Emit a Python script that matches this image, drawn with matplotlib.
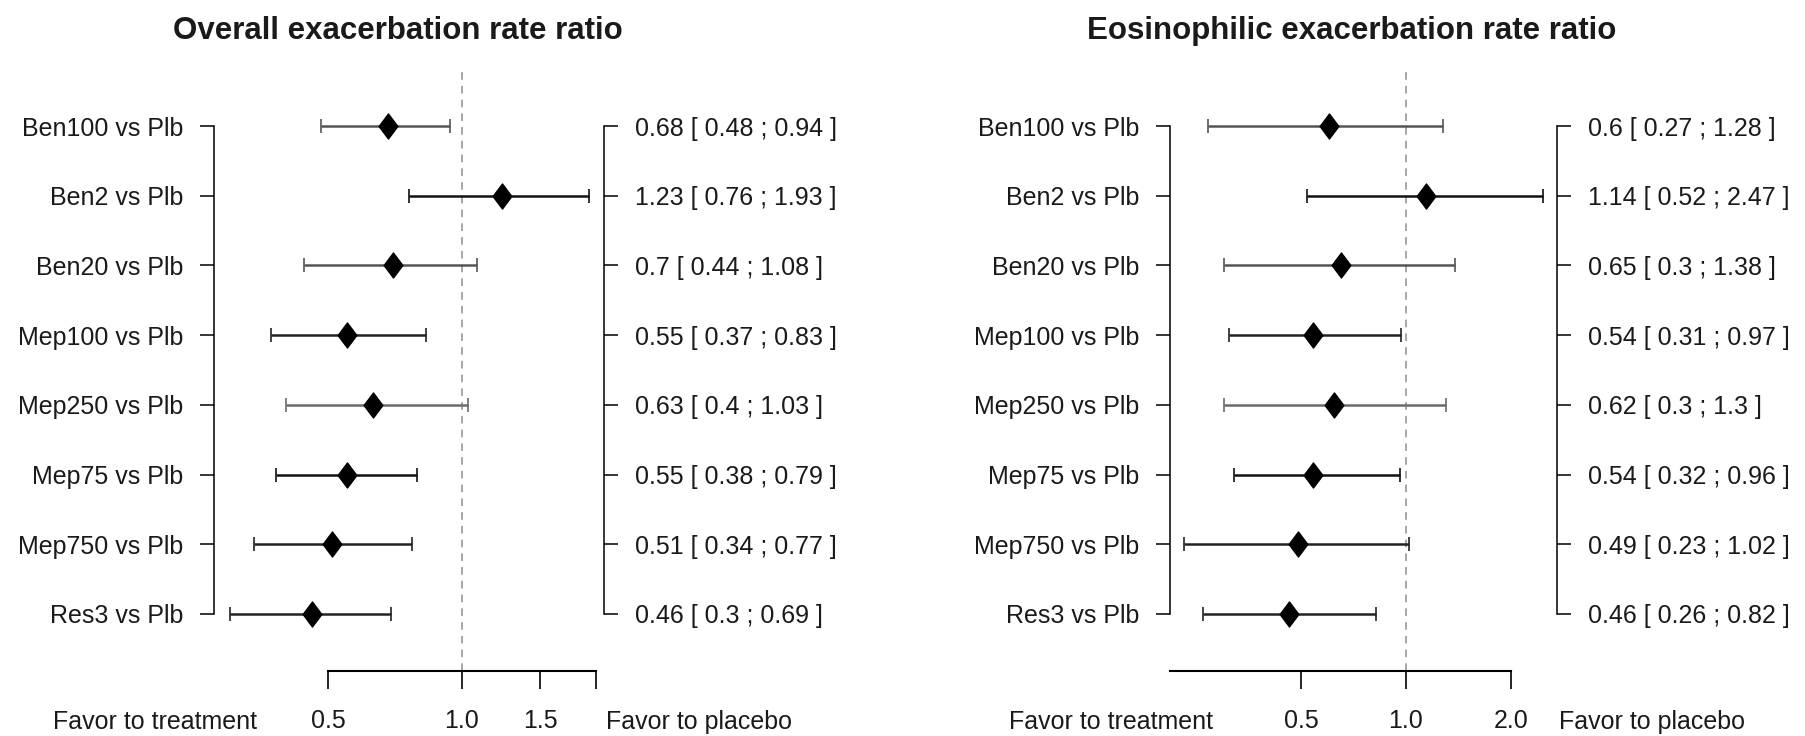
import numpy as np
import matplotlib
matplotlib.use("Agg")
import matplotlib.pyplot as plt
from matplotlib.path import Path

plt.rcParams['font.family'] = ['Liberation Sans', 'DejaVu Sans']

comparisons = ["Ben100 vs Plb", "Ben2 vs Plb", "Ben20 vs Plb", "Mep100 vs Plb",
               "Mep250 vs Plb", "Mep75 vs Plb", "Mep750 vs Plb", "Res3 vs Plb"]

# overall exacerbation rate ratio
overall_rr = [0.68, 1.23, 0.7, 0.55, 0.63, 0.55, 0.51, 0.46]
overall_lo = [0.48, 0.76, 0.44, 0.37, 0.4, 0.38, 0.34, 0.3]
overall_hi = [0.94, 1.93, 1.08, 0.83, 1.03, 0.79, 0.77, 0.69]

# eosinophilic exacerbation rate ratio
eos_rr = [0.6, 1.14, 0.65, 0.54, 0.62, 0.54, 0.49, 0.46]
eos_lo = [0.27, 0.52, 0.3, 0.31, 0.3, 0.32, 0.23, 0.26]
eos_hi = [1.28, 2.47, 1.38, 0.97, 1.3, 0.96, 1.02, 0.82]

overall_ticks = [0.5, 1.0, 1.5, 2.0]
overall_ticklabels = ["0.5", "1.0", "1.5", ""]
eos_ticks = [0.5, 1.0, 2.0]
eos_ticklabels = ["0.5", "1.0", "2.0"]

W, H = 1805, 736
fig = plt.figure(figsize=(W / 100, H / 100), dpi=100)

# tall diamond for the point estimates
diamond = Path([(0, 1), (0.75, 0), (0, -1), (-0.75, 0), (0, 1)],
               [Path.MOVETO, Path.LINETO, Path.LINETO, Path.LINETO, Path.CLOSEPOLY])

ci_colors = ['#555555', '#111111', '#555555', '#222222',
             '#6a6a6a', '#111111', '#222222', '#222222']
TXT = '#1a1a1a'
FS = 18
YLIM = (7.819, -0.8465)


def px_axes(x0, x1, y0, y1):
    return fig.add_axes([x0 / W, 1 - y1 / H, (x1 - x0) / W, (y1 - y0) / H])


def draw_panel(ax, est, lo, hi, xlim, axis_start, ticks, ticklabels):
    rows = np.arange(len(comparisons))
    ax.set_xscale('log')
    ax.set_xlim(xlim)
    ax.set_ylim(YLIM)

    ax.axvline(1.0, color='#8f8f8f', lw=1.1, dashes=(5, 4), zorder=0)

    for i in rows:
        ax.errorbar(est[i], i, xerr=[[est[i] - lo[i]], [hi[i] - est[i]]],
                    fmt='none', ecolor=ci_colors[i], elinewidth=1.8,
                    capsize=5, capthick=1.2, clip_on=False)
    ax.plot(est, rows, ls='none', marker=diamond, ms=18, color='black',
            clip_on=False, zorder=3)

    for s in ['top', 'right']:
        ax.spines[s].set_visible(False)
    ax.spines['left'].set_bounds(0, 7)
    ax.spines['left'].set_linewidth(1.1)
    ax.spines['bottom'].set_bounds(axis_start, 2.0)
    ax.spines['bottom'].set_linewidth(1.5)

    ax.set_xticks(ticks, ticklabels)
    ax.minorticks_off()
    ax.tick_params(axis='x', length=13, width=1.2, pad=14, labelsize=FS,
                   labelcolor=TXT)
    ax.set_yticks(rows, comparisons)
    ax.tick_params(axis='y', length=10, width=1.1, pad=12, labelsize=FS,
                   labelcolor=TXT)

    # estimates with their intervals on the right-hand bracket
    tw = ax.twinx()
    tw.set_ylim(YLIM)
    for s in ['top', 'left', 'bottom']:
        tw.spines[s].set_visible(False)
    tw.spines['right'].set_bounds(0, 7)
    tw.spines['right'].set_linewidth(1.1)
    tw.set_yticks(rows, [f"{e} [ {l} ; {h} ]" for e, l, h in zip(est, lo, hi)])
    tw.tick_params(axis='y', length=10, width=1.1, pad=12, labelsize=FS,
                   labelcolor=TXT)

    ax.text(0.11, -0.084, "Favor to treatment", transform=ax.transAxes,
            ha='right', va='center', fontsize=FS, color=TXT)
    ax.text(1.005, -0.084, "Favor to placebo", transform=ax.transAxes,
            ha='left', va='center', fontsize=FS, color=TXT)


ax1 = px_axes(214, 604, 67, 671)
draw_panel(ax1, overall_rr, overall_lo, overall_hi,
           (np.exp((214 - 462) / 192.6), np.exp((604 - 462) / 192.6)),
           0.5, overall_ticks, overall_ticklabels)

ax2 = px_axes(1170, 1557, 67, 671)
eos_xlim = (np.exp((1170 - 1406) / 151.0), np.exp((1557 - 1406) / 151.0))
draw_panel(ax2, eos_rr, eos_lo, eos_hi, eos_xlim,
           eos_xlim[0], eos_ticks, eos_ticklabels)

fig.text(398 / W, 1 - 31 / H, "Overall exacerbation rate ratio",
         ha='center', va='center', fontsize=22.5, fontweight='bold', color=TXT)
fig.text(1352 / W, 1 - 31 / H, "Eosinophilic exacerbation rate ratio",
         ha='center', va='center', fontsize=22.5, fontweight='bold', color=TXT)

fig.savefig("out.png", dpi=100)
